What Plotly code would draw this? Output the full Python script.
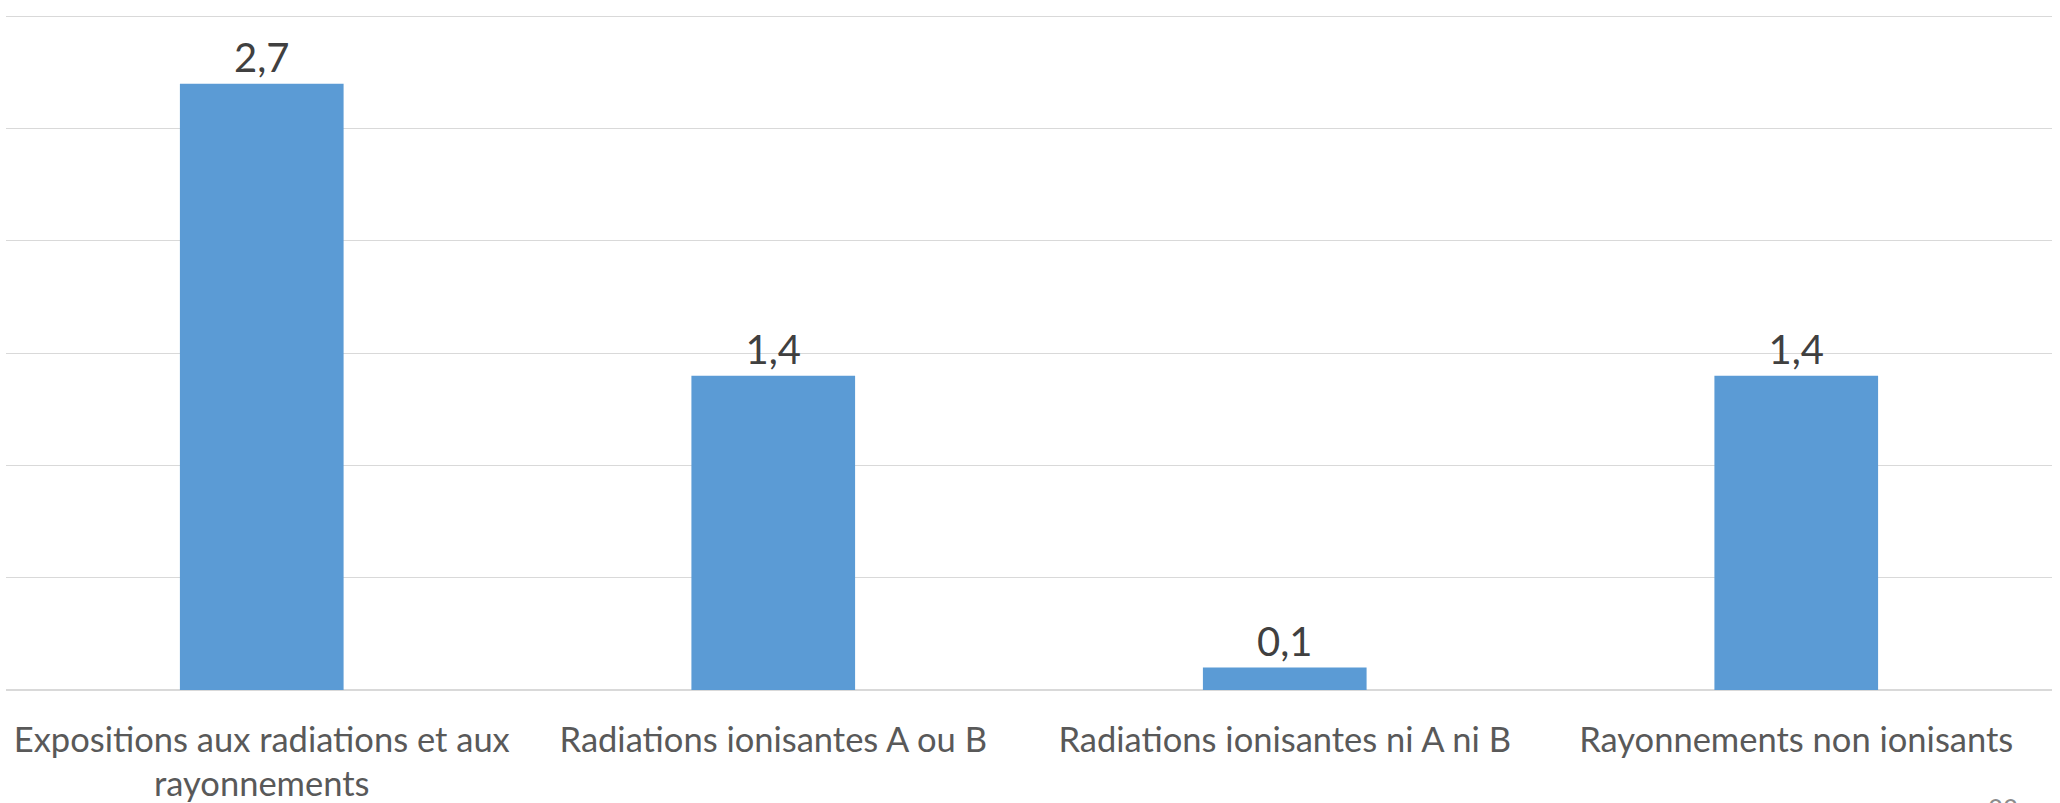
import plotly.graph_objects as go

categories = [
    "Expositions aux radiations et aux<br>rayonnements",
    "Radiations ionisantes A ou B",
    "Radiations ionisantes ni A ni B",
    "Rayonnements non ionisants",
]
values = [2.7, 1.4, 0.1, 1.4]
page_number = "22"

FONT = "Lato, Open Sans, sans-serif"

fig = go.Figure()
fig.add_trace(go.Bar(
    x=categories,
    y=values,
    marker=dict(color="#5B9BD5", line=dict(width=0)),
    texttemplate="%{y:.1f}",
    textposition="outside",
    textfont=dict(family=FONT, size=40, color="#404040"),
    cliponaxis=False,
    hoverinfo="skip",
))

fig.add_annotation(
    text=page_number, xref="paper", yref="paper",
    x=0.976, y=-0.149, xanchor="center", yanchor="top",
    showarrow=False, font=dict(family=FONT, size=26, color="#8C8C8C"),
)

fig.update_layout(
    width=2060, height=803,
    margin=dict(l=6, r=8, t=12, b=113, autoexpand=False),
    paper_bgcolor="white", plot_bgcolor="white",
    bargap=0.68,
    separators=", ",
    showlegend=False,
    font=dict(family=FONT),
)
fig.update_xaxes(
    showline=False, showgrid=False, ticks="",
    tickangle=0, automargin=False,
    tickfont=dict(family=FONT, size=34.5, color="#595959"),
    ticklabelstandoff=26,
)
fig.update_yaxes(
    range=[0, 3.02], dtick=0.5, showticklabels=False,
    showgrid=True, gridcolor="#D9D9D9", gridwidth=1.3,
    zeroline=True, zerolinecolor="#D9D9D9", zerolinewidth=2,
    automargin=False,
)

fig.write_html(
    "out.html",
    config={"displayModeBar": False},
    post_script="document.body.style.margin='0';",
)
